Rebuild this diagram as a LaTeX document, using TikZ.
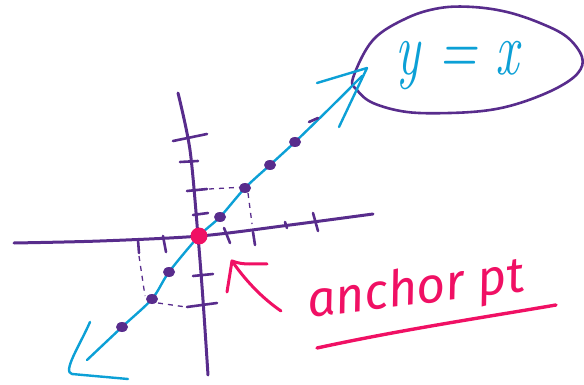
\documentclass[tikz,border=0pt]{standalone}
\usepackage{fontspec}
\newfontfamily\handfont{Fira Sans}
\definecolor{axpurple}{RGB}{88,44,140}
\definecolor{lineblue}{RGB}{12,160,214}
\definecolor{hotpink}{RGB}{240,16,100}
\tikzset{
  axis/.style={draw=axpurple,line width=3pt,line cap=round,line join=round},
  tickmark/.style={draw=axpurple,line width=2.6pt,line cap=round},
  dotmark/.style={fill=axpurple,draw=none},
  bluepen/.style={draw=lineblue,line width=2.4pt,line cap=round,line join=round},
  pinkpen/.style={draw=hotpink,line width=3pt,line cap=round,line join=round},
  proj/.style={draw=axpurple,line width=1.3pt,dash pattern=on 5pt off 5pt},
}
\begin{document}
\begin{tikzpicture}[x=1pt,y=-1pt]
\useasboundingbox (0,0) rectangle (584,385);
% ellipse around label
\draw[axis,line width=2.6pt] plot[smooth cycle,tension=0.6] coordinates {(353,78) (373,40) (407,18) (440,8) (473,7) (507,12) (540,23) (567,37) (582,57) (578,73) (557,88) (523,102) (490,110) (450,113) (407,112) (373,103) (357,90)};
\node[text=lineblue,font=\fontsize{52}{60}\selectfont\itshape] (lbl) at (457,66) {\scalebox{1}[1.45]{y = x}};
% axes
\draw[axis] plot[smooth,tension=0.5] coordinates {(14,243) (100,241) (200,236) (290,225) (373,214)};
\draw[axis] plot[smooth,tension=0.5] coordinates {(178,93) (190,150) (198,236) (203,300) (208,375)};
% ticks on vertical axis
\draw[tickmark] (173,141) -- (207,134);
\draw[tickmark] (180,162) -- (198,161);
\draw[tickmark] (187,191) -- (207,189);
\draw[tickmark] (193,215) -- (208,213);
\draw[tickmark] (193,276) -- (213,274);
\draw[tickmark] (187,307) -- (217,303);
% ticks on horizontal axis
\draw[tickmark] (138,240) -- (139,253);
\draw[tickmark] (163,236) -- (166,252);
\draw[tickmark] (224,228) -- (230,243);
\draw[tickmark] (253,232) -- (255,245);
\draw[tickmark] (285,222) -- (287,228);
\draw[tickmark] (313,213) -- (318,231);
% projection lines
\draw[proj] (209,189) -- (245,187);
\draw[proj] (248,193) -- (252,224);
\draw[proj] (139,256) -- (145,296);
\draw[proj] (158,303) -- (186,307);
% blue line y = x
\draw[bluepen] plot[smooth,tension=0.5] coordinates {(87,360) (122,327) (152,299) (169,272) (199,236) (220,217) (245,188) (270,165) (295,142) (330,108) (362,76)};
\draw[bluepen] (317,83) -- (367,68) -- (339,127);
\draw[bluepen] (90,322) .. controls (80,345) and (62,372) .. (72,374) -- (128,379);
% points on the line
\foreach \p in {(122,327),(152,299),(169,272),(220,217),(245,188),(270,165),(295,142)}
  \fill[dotmark] \p ellipse (6 and 5);
\draw[tickmark] (309,122) -- (318,118);
% anchor point
\node[circle,fill=hotpink,minimum size=17pt,inner sep=0pt] (O) at (199,236) {};
% pink arrow
\draw[pinkpen] (281,311) .. controls (262,298) and (245,280) .. (232,261);
\draw[pinkpen] (227,292) -- (232,261) .. controls (245,266) and (255,263) .. (267,264);
\node[text=hotpink,font=\handfont\itshape\fontsize{50}{56}\selectfont,rotate=7] (anc) at (416,291) {anchor pt};
\draw[pinkpen,line width=3.4pt] (317,348) .. controls (400,330) and (480,318) .. (556,305);
\end{tikzpicture}
\end{document}
